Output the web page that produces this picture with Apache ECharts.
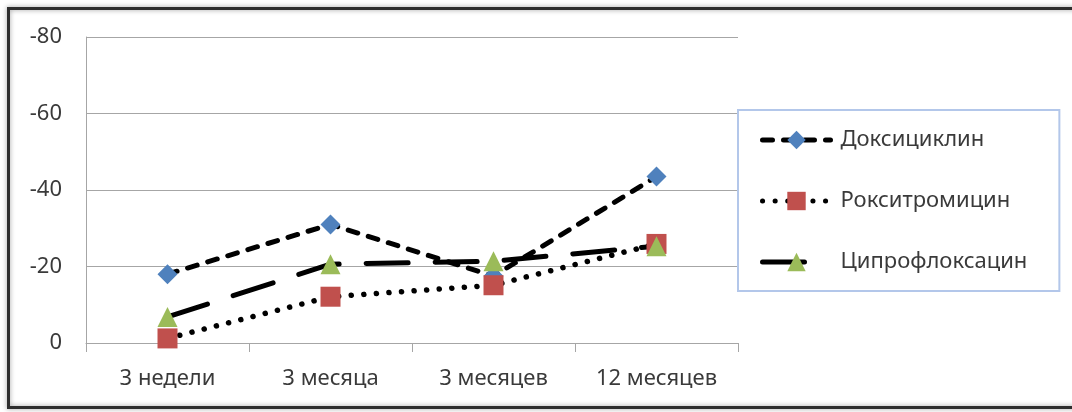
<!DOCTYPE html>
<html>
<head>
<meta charset="utf-8">
<script src="https://cdn.jsdelivr.net/npm/echarts@6/dist/echarts.min.js"></script>
<style>
  html, body { margin: 0; padding: 0; background: #fff; }
  #chart { width: 1072px; height: 412px; }
</style>
</head>
<body>
<div id="chart"></div>
<script>
// Time points after treatment
const categories = ['3 недели', '3 месяца', '3 месяцев', '12 месяцев'];

// Change per antibiotic at each time point
const doxycycline = [-18, -31, -17.5, -43.5];
const roxithromycin = [-1.2, -12.1, -15.1, -25.9];
const ciprofloxacin = [-6.8, -20.6, -21.4, -25.3];

const seriesNames = ['Доксициклин', 'Рокситромицин', 'Ципрофлоксацин'];

// Value axis range and step (drawn inverted: 0 at the bottom)
const yMin = -80;
const yMax = 0;
const yStep = 20;

const FONT = '"Noto Sans", "Open Sans", sans-serif';
const TEXT = '#3a3a3a';
const GRID = '#a6a6a6';

const chart = echarts.init(document.getElementById('chart'), null, { renderer: 'canvas' });

function lineSeries(name, values, symbol, color, dash, width) {
  return {
    name: name,
    type: 'line',
    data: values,
    symbol: symbol,
    symbolSize: 20,
    showSymbol: true,
    itemStyle: { color: color, borderWidth: 0 },
    lineStyle: { color: '#000', width: width, type: dash, cap: 'round' },
    emphasis: { disabled: true },
    animation: false
  };
}

chart.setOption({
  backgroundColor: '#fff',
  animation: false,
  graphic: [{
    type: 'rect',
    silent: true,
    z: -10,
    shape: { x: 8.5, y: 8.5, width: 1110, height: 399 },
    style: {
      fill: 'rgba(255,255,255,0)',
      stroke: '#2e2e2e',
      lineWidth: 3,
      shadowBlur: 5,
      shadowColor: 'rgba(0,0,0,0.4)'
    }
  }],
  grid: { left: 86, top: 37, right: 334, bottom: 69, containLabel: false },
  legend: {
    orient: 'vertical',
    left: 738,
    top: 110,
    padding: [19, 32, 18, 22],
    itemGap: 39,
    itemWidth: 68,
    itemHeight: 23,
    borderColor: '#b3c7ea',
    borderWidth: 2,
    backgroundColor: '#fff',
    selectedMode: false,
    lineStyle: { width: 5 },
    textStyle: { fontFamily: FONT, fontSize: 22, color: TEXT, padding: [0, 0, 0, 5] },
    data: seriesNames
  },
  xAxis: {
    type: 'category',
    data: categories,
    boundaryGap: true,
    axisLine: { show: true, lineStyle: { color: GRID, width: 1 } },
    axisTick: { show: true, length: 9, lineStyle: { color: GRID } },
    axisLabel: { fontFamily: FONT, fontSize: 22, color: TEXT, margin: 25 },
    splitLine: { show: false }
  },
  yAxis: {
    type: 'value',
    inverse: true,
    min: yMin,
    max: yMax,
    interval: yStep,
    axisLine: { show: true, lineStyle: { color: GRID, width: 1 } },
    axisTick: { show: false },
    axisLabel: { fontFamily: FONT, fontSize: 22, color: TEXT, margin: 24 },
    splitLine: { show: true, lineStyle: { color: GRID, width: 1 } }
  },
  series: [
    lineSeries(seriesNames[0], doxycycline, 'diamond', '#4f81bd', [10, 11], 5),
    lineSeries(seriesNames[1], roxithromycin, 'rect', '#c0504d', [0.1, 12.5], 5.5),
    lineSeries(seriesNames[2], ciprofloxacin, 'triangle', '#9bbb59', [42, 27], 5)
  ]
});
</script>
</body>
</html>
